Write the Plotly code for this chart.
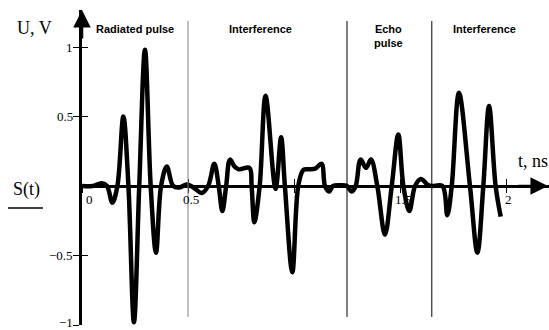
import plotly.graph_objects as go

# ---- data ----
t_ns = [0.0, 0.05, 0.093, 0.118, 0.143, 0.167, 0.195, 0.219, 0.245, 0.27, 0.297, 0.324, 0.349, 0.373, 0.40, 0.43, 0.46, 0.494,
        0.525, 0.565, 0.595, 0.624, 0.645, 0.662, 0.68, 0.698, 0.72, 0.74, 0.79, 0.80, 0.813, 0.838, 0.866, 0.913, 0.939, 0.957,
        0.992, 1.02, 1.044, 1.07, 1.1, 1.13, 1.146, 1.165, 1.184, 1.22,
        1.25, 1.272, 1.291, 1.314, 1.34, 1.363, 1.393, 1.429, 1.461, 1.492, 1.516, 1.544, 1.571, 1.598, 1.63, 1.65,
        1.70, 1.723, 1.744, 1.778, 1.83, 1.865, 1.893, 1.92, 1.951, 1.975]
u_volts = [0.0, 0.0, 0.02, 0.0, -0.12, 0.0, 0.50, 0.0, -0.98, 0.0, 0.98, 0.0, -0.48, 0.0, 0.14, 0.0, -0.01, 0.01,
           -0.01, -0.05, 0.0, 0.16, 0.0, -0.18, 0.0, 0.19, 0.14, 0.12, 0.13, 0.0, -0.26, 0.0, 0.65, -0.02, 0.35, 0.0,
           -0.62, 0.0, 0.115, 0.12, 0.125, 0.16, 0.0, -0.04, 0.0, 0.005,
           0.0, -0.04, 0.0, 0.19, 0.13, 0.19, 0.0, -0.35, 0.0, 0.37, 0.0, -0.18, 0.0, 0.05, 0.01, 0.0,
           0.0, -0.21, 0.0, 0.67, 0.0, -0.48, 0.0, 0.575, 0.0, -0.22]

x_ticks = [0, 0.5, 1, 1.5, 2]
x_tick_labels = ["0", "0.5", "1", "1.5", "2"]
y_ticks = [-1, -0.5, 0.5, 1]
y_tick_labels = ["\u22121", "\u22120.5", "0.5", "1"]
section_bounds = [0.5, 1.25, 1.65]
section_labels = ["Radiated pulse", "Interference", "Echo<br>pulse", "Interference"]

# ---- geometry ----
W, H = 549, 330
ML, MR, MT, MB = 82, 0, 10, 5
PW, PH = W - ML - MR, H - MT - MB
XR = [0, PW / 212.0]
YR = [-(H - MB - 186) / 139.0, (186 - MT) / 139.0]


def pxp(px):
    return (px - ML) / PW


def pyp(py):
    return (H - MB - py) / PH


x0pos = (0 - YR[0]) / (YR[1] - YR[0])

serif = "Liberation Serif"
sans = "Liberation Sans"

fig = go.Figure()
fig.add_trace(go.Scatter(x=t_ns, y=u_volts, mode="lines",
                         line=dict(color="black", width=4.5, shape="spline", smoothing=1.0),
                         hoverinfo="skip", showlegend=False, cliponaxis=False))
# helper trace for crossing ticks
fig.add_trace(go.Scatter(x=[None], y=[None], xaxis="x2", yaxis="y2", showlegend=False))

shapes = []
for i, b in enumerate(section_bounds):
    shapes.append(dict(type="line", xref="x", yref="y", x0=b, x1=b, y0=-0.942, y1=1.187,
                       line=dict(color="#808080" if i == 0 else "black", width=1)))
# legend line under S(t)
shapes.append(dict(type="line", xref="paper", yref="paper", x0=pxp(8), x1=pxp(43), y0=pyp(208), y1=pyp(208),
                   line=dict(color="black", width=1.5)))

annotations = []
label_x = [0.252, 0.842, 1.448, 1.899]
for lx, txt in zip(label_x, section_labels):
    annotations.append(dict(x=lx, y=1.13 if "<br>" not in txt else 1.08, xref="x", yref="y", text="<b>%s</b>" % txt,
                            showarrow=False, font=dict(family=sans, size=11, color="black"),
                            xanchor="center", yanchor="middle"))
# x tick labels just below the t axis
tickfont = dict(family=serif, size=13, color="black")
for i, (xv, lab) in enumerate(zip(x_ticks, x_tick_labels)):
    annotations.append(dict(x=xv, y=0, xref="x", yref="y", text=lab, showarrow=False, font=tickfont,
                            xanchor="center", yanchor="top", xshift=7 if i == 0 else 2.5, yshift=-4))
# y tick labels (drawn as annotations so the bottom one is not dropped)
for yv, lab in zip(y_ticks, y_tick_labels):
    annotations.append(dict(x=0, y=yv, xref="x", yref="y", text=lab, showarrow=False, font=tickfont,
                            xanchor="right", yanchor="middle", xshift=-7, yshift=3 if yv == -1 else 0))
# axis titles
annotations.append(dict(x=pxp(34), y=pyp(28), xref="paper", yref="paper", text="U, V", showarrow=False,
                        font=dict(family=serif, size=18, color="black"), xanchor="center", yanchor="middle"))
annotations.append(dict(x=pxp(533), y=pyp(161), xref="paper", yref="paper", text="t, ns", showarrow=False,
                        font=dict(family=serif, size=18, color="black"), xanchor="center", yanchor="middle"))
annotations.append(dict(x=pxp(26), y=pyp(189), xref="paper", yref="paper", text="S(t)", showarrow=False,
                        font=dict(family=serif, size=18, color="black"), xanchor="center", yanchor="middle"))
# axis arrows
annotations.append(dict(x=0, y=YR[1], ax=0, ay=1.05, xref="x", yref="y", axref="x", ayref="y", text="",
                        showarrow=True, arrowhead=2, arrowsize=1.4, arrowwidth=2.5, arrowcolor="black"))
annotations.append(dict(x=XR[1] - 0.005, y=0, ax=2.05, ay=0, xref="x", yref="y", axref="x", ayref="y", text="",
                        showarrow=True, arrowhead=2, arrowsize=1.4, arrowwidth=2.5, arrowcolor="black"))

fig.update_layout(
    width=W, height=H, margin=dict(l=ML, r=MR, t=MT, b=MB, pad=0),
    paper_bgcolor="white", plot_bgcolor="white", showlegend=False,
    xaxis=dict(range=XR, anchor="free", position=x0pos, showline=True, linecolor="black", linewidth=2.5,
               ticks="inside", ticklen=6, tickwidth=1, tickcolor="black",
               tickvals=x_ticks, showticklabels=False,
               showgrid=False, zeroline=False, automargin=False, fixedrange=True),
    yaxis=dict(range=YR, showline=True, linecolor="black", linewidth=2.5,
               ticks="outside", ticklen=6, tickwidth=1, tickcolor="black",
               tickvals=y_ticks, showticklabels=False,
               showgrid=False, zeroline=False, automargin=False, fixedrange=True),
    xaxis2=dict(range=XR, overlaying="x", anchor="free", position=x0pos, showline=False,
                ticks="outside", ticklen=6, tickwidth=1, tickcolor="black", tickvals=x_ticks,
                showticklabels=False, showgrid=False, zeroline=False, automargin=False),
    yaxis2=dict(range=YR, overlaying="y", showline=False,
                ticks="inside", ticklen=6, tickwidth=1, tickcolor="black", tickvals=y_ticks,
                showticklabels=False, showgrid=False, zeroline=False, automargin=False),
    shapes=shapes, annotations=annotations,
)

fig.write_html("out.html", config={"displayModeBar": False},
               post_script="document.body.style.margin='0';document.body.style.overflow='hidden';")
